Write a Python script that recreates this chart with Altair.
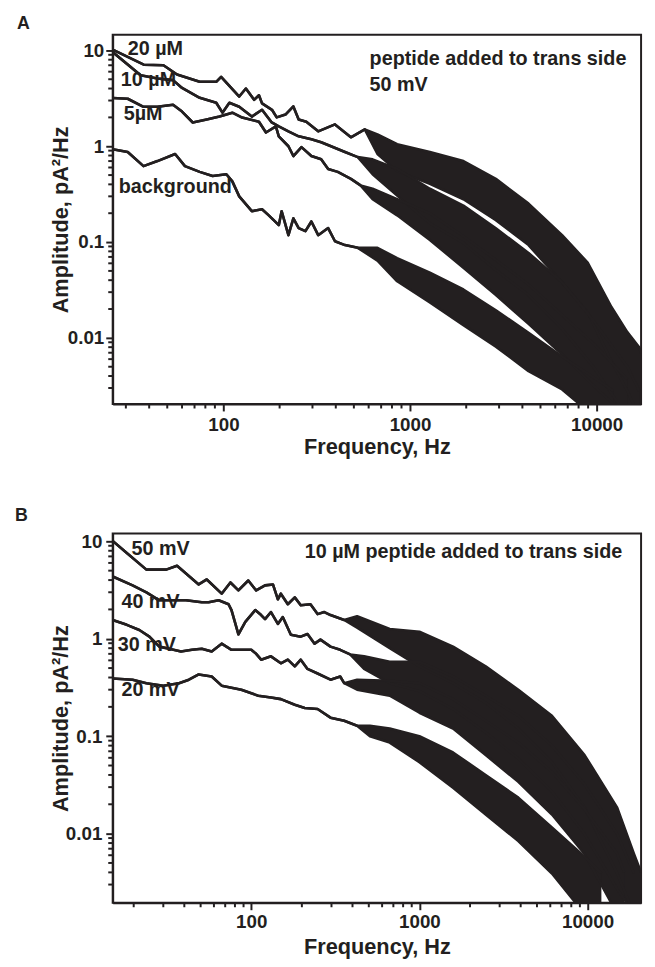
import altair as alt
import pandas as pd

INK = "#231f20"
FONT = "Liberation Sans"

# ---------------- Panel A (peptide concentration, 50 mV) ----------------
A_20_tf = [25.5, 37.4, 47.7, 56.4, 74.6, 91.5, 97.2, 121.5, 131.9, 146, 155, 161, 182, 193, 215, 237, 253, 278, 322, 396, 482, 572]
A_20_tv = [10.2, 7.1, 7.0, 5.6, 4.7, 4.7, 5.3, 3.3, 4.0, 3.05, 3.4, 2.8, 2.4, 2.0, 2.14, 2.6, 1.9, 1.8, 1.43, 1.69, 1.24, 1.5]
A_20_bf = [669, 853, 1277, 1932, 2884, 4315, 6530, 8950, 12000, 14600, 16900, 17300]
A_20_lo = [0.83, 0.55, 0.406, 0.28, 0.169, 0.093, 0.038, 0.0185, 0.0057, 0.0028, 0.0015, 0.0015]
A_20_hi = [1.33, 1.05, 0.87, 0.70, 0.457, 0.252, 0.118, 0.061, 0.021, 0.0115, 0.008, 0.007]

A_10_tf = [25.5, 36, 44.3, 53.7, 60, 74.6, 91.5, 98.8, 107.6, 121.5, 142, 161, 181.5, 198, 223, 253, 296, 334, 377, 448, 525]
A_10_tv = [9.6, 5.5, 5.1, 4.9, 4.06, 3.2, 2.84, 2.24, 2.84, 2.58, 2.04, 2.4, 1.77, 1.61, 1.43, 1.27, 1.18, 1.10, 1.0, 0.87, 0.77]
A_10_bf = [630, 853, 1277, 1932, 2884, 4315, 6530, 9750, 14600, 16900]
A_10_lo = [0.51, 0.305, 0.157, 0.098, 0.051, 0.028, 0.0124, 0.0048, 0.0015, 0.0015]
A_10_hi = [0.73, 0.58, 0.36, 0.24, 0.139, 0.077, 0.038, 0.0146, 0.0050, 0.0028]

A_5_tf = [25.5, 30.7, 37.3, 44.3, 53.7, 60, 68.5, 81.3, 95.3, 111.6, 126, 155, 169, 191, 198, 223, 237, 262, 296, 334, 364, 410, 482, 543]
A_5_tv = [3.18, 3.13, 2.58, 2.58, 2.71, 2.3, 1.77, 1.9, 2.04, 2.24, 1.99, 1.8, 1.39, 1.61, 1.27, 1.0, 0.79, 0.98, 0.79, 0.73, 0.58, 0.54, 0.457, 0.39]
A_5_bf = [630, 853, 1277, 1932, 2884, 4315, 6530, 9750, 14600]
A_5_lo = [0.28, 0.19, 0.105, 0.054, 0.028, 0.014, 0.0067, 0.0031, 0.0015]
A_5_hi = [0.36, 0.28, 0.199, 0.115, 0.065, 0.036, 0.0173, 0.0085, 0.0037]

A_bg_tf = [25.5, 30.7, 37.3, 44.3, 55.1, 62.2, 74.6, 87.5, 103.7, 111.6, 121.5, 142, 161, 175, 198, 205, 223, 237, 253, 275, 296, 322, 364, 396, 448, 525]
A_bg_tv = [0.93, 0.87, 0.62, 0.70, 0.83, 0.62, 0.54, 0.49, 0.51, 0.43, 0.30, 0.21, 0.22, 0.19, 0.15, 0.21, 0.118, 0.177, 0.14, 0.13, 0.164, 0.118, 0.14, 0.102, 0.093, 0.087]
A_bg_bf = [669, 853, 1277, 1932, 2884, 4315, 6530, 9750, 12300]
A_bg_lo = [0.064, 0.039, 0.0235, 0.0136, 0.0081, 0.0045, 0.0029, 0.0015, 0.0015]
A_bg_hi = [0.087, 0.068, 0.048, 0.032, 0.0194, 0.0113, 0.0064, 0.0038, 0.0028]

A_label_text = ["20 µM", "10 µM", "5µM", "background"]
A_label_f = [30.7, 28.2, 29.2, 27.5]
A_label_v = [10.3, 4.9, 2.19, 0.378]
A_note_text = ["peptide added to trans side", "50 mV"]
A_note_f = [607, 607]
A_note_v = [7.1, 3.78]

# ---------------- Panel B (10 µM peptide, voltages) ----------------
B_50_tf = [15.0, 18.2, 23.8, 31.2, 36.2, 48.7, 54.4, 66.7, 75.2, 83.9, 96, 107, 120.8, 134.6, 144, 150, 165, 181.5, 197, 225, 248, 272, 296, 357]
B_50_tv = [10.07, 7.6, 5.12, 5.12, 5.62, 3.61, 4.06, 2.9, 3.78, 3.13, 3.96, 3.13, 3.53, 3.61, 2.54, 2.9, 2.26, 2.66, 2.21, 2.26, 1.79, 1.88, 1.75, 1.56]
B_50_bf = [426, 666, 1000, 1585, 2477, 3873, 6137, 9594, 15000, 18880, 20800]
B_50_lo = [1.3, 0.80, 0.52, 0.35, 0.22, 0.12, 0.054, 0.0185, 0.0039, 0.0015, 0.0015]
B_50_hi = [1.7, 1.26, 1.18, 0.83, 0.52, 0.30, 0.162, 0.064, 0.0185, 0.0062, 0.004]

B_40_tf = [15.0, 19.7, 23.8, 28.4, 40.9, 50.8, 55.8, 64.0, 73.3, 76.3, 83.9, 92.2, 105.6, 114.5, 120.8, 131, 144, 154, 172, 197, 216, 238, 258, 296, 338, 387]
B_40_tv = [4.35, 3.53, 2.99, 2.48, 2.48, 2.37, 2.37, 2.48, 2.26, 1.97, 1.11, 1.49, 1.97, 1.75, 1.59, 1.88, 1.42, 1.67, 1.10, 1.05, 1.12, 0.89, 0.98, 0.83, 0.77, 0.69]
B_40_bf = [469, 666, 1000, 1585, 2477, 3873, 6137, 9594, 15000, 18880]
B_40_lo = [0.49, 0.35, 0.29, 0.19, 0.109, 0.059, 0.027, 0.0099, 0.0027, 0.0015]
B_40_hi = [0.66, 0.58, 0.58, 0.41, 0.26, 0.162, 0.080, 0.032, 0.0099, 0.0039]

B_30_tf = [15.0, 18.2, 21.6, 24.8, 28.4, 32.5, 38.2, 44.4, 50.8, 58.2, 66.7, 76.3, 87.3, 100, 107, 114.5, 131, 150, 165, 181.5, 197, 216, 248, 296, 338, 357]
B_30_tv = [1.56, 1.39, 1.23, 1.05, 0.83, 0.79, 0.74, 0.77, 0.79, 0.74, 0.89, 0.77, 0.77, 0.77, 0.70, 0.61, 0.66, 0.56, 0.61, 0.52, 0.61, 0.49, 0.44, 0.38, 0.41, 0.35]
B_30_bf = [426, 666, 1000, 1585, 2477, 3873, 6137, 9594, 15000, 16500]
B_30_lo = [0.30, 0.26, 0.174, 0.12, 0.064, 0.034, 0.0157, 0.0062, 0.0015, 0.0015]
B_30_hi = [0.38, 0.37, 0.35, 0.24, 0.144, 0.086, 0.043, 0.0177, 0.0062, 0.004]

B_20_tf = [15.0, 19.7, 23.8, 30, 37.2, 42.6, 48.7, 58.2, 66.7, 87.3, 110, 131, 150, 181.5, 208, 248, 296, 357, 426]
B_20_tv = [0.39, 0.38, 0.35, 0.33, 0.35, 0.38, 0.43, 0.41, 0.33, 0.30, 0.26, 0.25, 0.24, 0.21, 0.195, 0.19, 0.155, 0.144, 0.128]
B_20_bf = [508, 666, 1000, 1585, 2477, 3873, 6137, 9594, 12080]
B_20_lo = [0.10, 0.086, 0.054, 0.0295, 0.0157, 0.0084, 0.0039, 0.0015, 0.0015]
B_20_hi = [0.128, 0.12, 0.10, 0.068, 0.040, 0.0234, 0.0116, 0.0058, 0.0039]

B_label_text = ["50 mV", "40 mV", "30 mV", "20 mV"]
B_label_f = [19.4, 16.9, 16.1, 16.9]
B_label_v = [8.26, 2.37, 0.86, 0.30]
B_note_text = ["10 µM peptide added to trans side"]
B_note_f = [208]
B_note_v = [6.8]

# axis ticks
X_MAJOR = [100, 1000, 10000]
Y_MAJOR = [0.01, 0.1, 1, 10]
A_X_MINOR = [30, 40, 50, 60, 70, 80, 90, 200, 300, 400, 500, 600, 700, 800, 900,
             2000, 3000, 4000, 5000, 6000, 7000, 8000, 9000]
B_X_MINOR = [20] + A_X_MINOR
Y_MINOR = [0.003, 0.004, 0.005, 0.006, 0.007, 0.008, 0.009,
           0.02, 0.03, 0.04, 0.05, 0.06, 0.07, 0.08, 0.09,
           0.2, 0.3, 0.4, 0.5, 0.6, 0.7, 0.8, 0.9,
           2, 3, 4, 5, 6, 7, 8, 9]

W, H = 535, 374
LW = 2.6


def series(name, tf, tv, bf, blo, bhi):
    rows = [{"series": name, "f": f, "lo": v, "hi": v} for f, v in zip(tf, tv)]
    rows += [{"series": name, "f": f, "lo": lo, "hi": hi} for f, lo, hi in zip(bf, blo, bhi)]
    return pd.DataFrame(rows)


def panel(df, xdom, ydom, lab, notes, letter, lx, ly, xminor, xlabpad, xtitley, ylabpad):
    xs = alt.Scale(type="log", domain=xdom, nice=False)
    ys = alt.Scale(type="log", domain=ydom, nice=False)
    xax = alt.Axis(values=X_MAJOR, format="~g", title="Frequency, Hz", tickSize=7,
                   labelPadding=xlabpad, titleX=W / 2, titleY=xtitley,
                   titleBaseline="alphabetic", titleAlign="center")
    yax = alt.Axis(values=Y_MAJOR, format="~g", title="Amplitude, pA²/Hz", tickSize=7,
                   labelPadding=ylabpad, titleX=-46, titleY=H / 2, titleAngle=270,
                   titleBaseline="alphabetic", titleAlign="center")
    X = alt.X("f:Q", scale=xs, axis=xax)
    base = alt.Chart(df)
    area = base.mark_area(clip=True, color=INK, opacity=1).encode(
        x=X, y=alt.Y("lo:Q", scale=ys, axis=yax), y2="hi:Q", detail="series:N")
    lo_line = base.mark_line(clip=True, color=INK, strokeWidth=LW, strokeJoin="round").encode(
        x=X, y=alt.Y("lo:Q", scale=ys, axis=yax), detail="series:N")
    hi_line = base.mark_line(clip=True, color=INK, strokeWidth=LW, strokeJoin="round").encode(
        x=X, y=alt.Y("hi:Q", scale=ys, axis=yax), detail="series:N")
    xm = alt.Chart(pd.DataFrame({"f": xminor})).mark_rule(color=INK, strokeWidth=2).encode(
        x=alt.X("f:Q", scale=xs, axis=xax), y=alt.value(H), y2=alt.value(H + 4.5))
    ym = alt.Chart(pd.DataFrame({"v": Y_MINOR})).mark_rule(color=INK, strokeWidth=2).encode(
        y=alt.Y("v:Q", scale=ys, axis=yax), x=alt.value(0), x2=alt.value(-4.5))
    labels = alt.Chart(lab).mark_text(align="left", baseline="middle", fontSize=20,
                                      fontWeight="bold", font=FONT, color=INK).encode(
        x=alt.X("f:Q", scale=xs, axis=xax), y=alt.Y("v:Q", scale=ys, axis=yax), text="t:N")
    note = alt.Chart(notes).mark_text(align="left", baseline="alphabetic", fontSize=20,
                                      fontWeight="bold", font=FONT, color=INK).encode(
        x=alt.X("f:Q", scale=xs, axis=xax), y=alt.Y("v:Q", scale=ys, axis=yax), text="t:N")
    let = alt.Chart(pd.DataFrame({"t": [letter]})).mark_text(
        align="left", baseline="alphabetic", fontSize=18, fontWeight="bold",
        font=FONT, color=INK).encode(x=alt.value(lx), y=alt.value(ly), text="t:N")
    return alt.layer(area, lo_line, hi_line, xm, ym, labels, note, let).properties(width=W, height=H)


dfA = pd.concat([
    series("20 µM", A_20_tf, A_20_tv, A_20_bf, A_20_lo, A_20_hi),
    series("10 µM", A_10_tf, A_10_tv, A_10_bf, A_10_lo, A_10_hi),
    series("5 µM", A_5_tf, A_5_tv, A_5_bf, A_5_lo, A_5_hi),
    series("background", A_bg_tf, A_bg_tv, A_bg_bf, A_bg_lo, A_bg_hi),
], ignore_index=True)
dfB = pd.concat([
    series("50 mV", B_50_tf, B_50_tv, B_50_bf, B_50_lo, B_50_hi),
    series("40 mV", B_40_tf, B_40_tv, B_40_bf, B_40_lo, B_40_hi),
    series("30 mV", B_30_tf, B_30_tv, B_30_bf, B_30_lo, B_30_hi),
    series("20 mV", B_20_tf, B_20_tv, B_20_bf, B_20_lo, B_20_hi),
], ignore_index=True)

labA = pd.DataFrame({"t": A_label_text, "f": A_label_f, "v": A_label_v})
notA = pd.DataFrame({"t": A_note_text, "f": A_note_f, "v": A_note_v})
labB = pd.DataFrame({"t": B_label_text, "f": B_label_f, "v": B_label_v})
notB = pd.DataFrame({"t": B_note_text, "f": B_note_f, "v": B_note_v})

pA = panel(dfA, [25.5, 17300], [0.00204, 14.6], labA, notA, "A", -97, -6, A_X_MINOR, 5, 50, 2)
pB = panel(dfB, [15.0, 20800], [0.00195, 12.05], labB, notB, "B", -99, -13, B_X_MINOR, 3, 51, 4)

chart = alt.vconcat(pA, pB, spacing=48).properties(
    padding={"left": 6, "top": 0, "right": 5, "bottom": 2}
).configure_view(stroke=INK, strokeWidth=2).configure_axis(
    grid=False, domainColor=INK, domainWidth=2, tickColor=INK, tickWidth=2,
    labelFont=FONT, labelFontSize=19, labelFontWeight="bold", labelColor=INK,
    titleFont=FONT, titleFontSize=22, titleFontWeight="bold", titleColor=INK,
    labelFlush=False,
)

chart.save("out.html", embed_options={"renderer": "svg", "actions": False})
